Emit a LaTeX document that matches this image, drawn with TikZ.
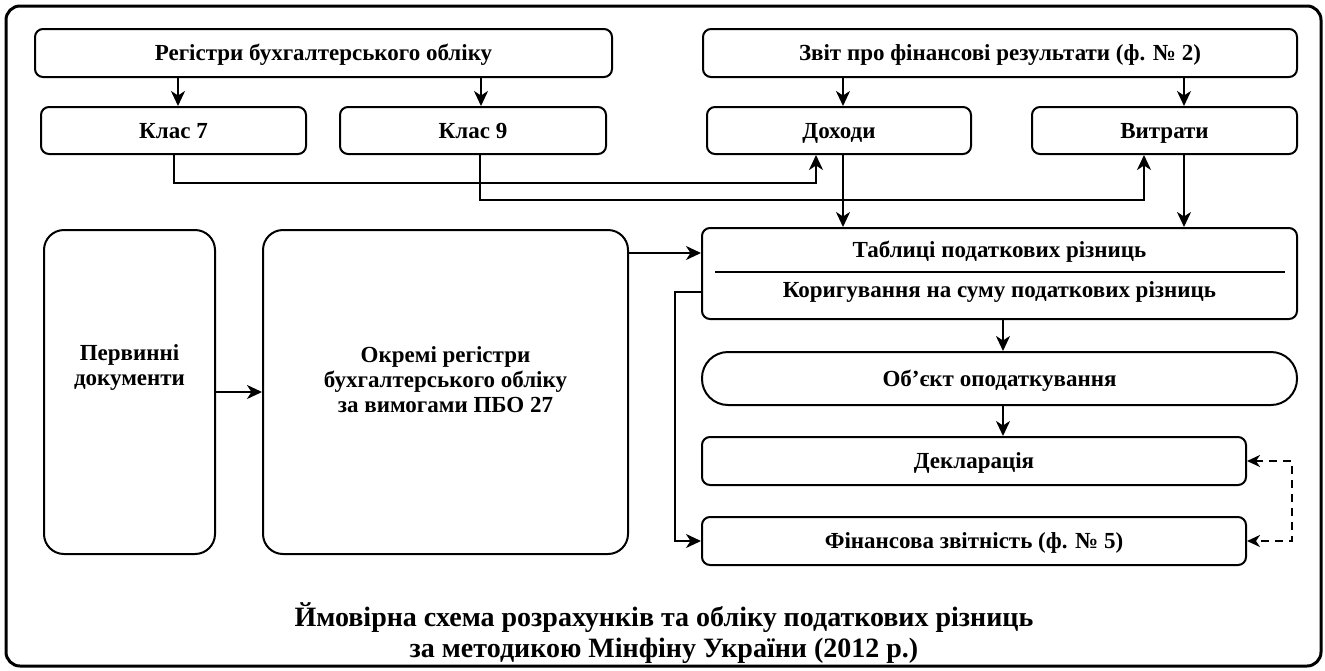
\documentclass[tikz,border=0pt]{standalone}
\usepackage{fontspec}
\setmainfont{Liberation Serif}
\usetikzlibrary{arrows.meta,calc}
\newcommand\bxfont{\fontsize{23}{25}\selectfont\bfseries}
\newcommand\ttlfont{\fontsize{28}{30.5}\selectfont\bfseries}
\begin{document}
\begin{tikzpicture}[x=1pt,y=-1pt,
  box/.style={draw, line width=2pt, rounded corners=8pt, font=\bxfont, align=center, inner sep=0pt, text height=20pt, text depth=5pt},
  tallbox/.style={draw, line width=2pt, rounded corners=20pt, inner sep=0pt},
  arr/.style={line width=2pt, -{Stealth[length=15pt,width=14pt,inset=4.5pt]}},
  darr/.style={line width=2pt, dash pattern=on 8pt off 6pt, {Stealth[length=13pt,width=12pt,inset=4pt]}-{Stealth[length=13pt,width=12pt,inset=4pt]}},
  lbl/.style={font=\bxfont, align=center, inner sep=0pt}]
\useasboundingbox (0,0) rectangle (1325,670);
\draw[line width=3pt, rounded corners=14pt] (6,6) rectangle (1321,666);

\node[box, minimum width=577pt, minimum height=48pt] (reg) at (323.5,53) {Регістри бухгалтерського обліку};
\node[box, minimum width=594pt, minimum height=48pt] (zvit) at (1000,53) {Звіт про фінансові результати (ф. № 2)};
\node[box, minimum width=265pt, minimum height=47pt] (k7) at (173.5,130.5) {Клас 7};
\node[box, minimum width=266pt, minimum height=47pt] (k9) at (473,130.5) {Клас 9};
\node[box, minimum width=264pt, minimum height=47pt] (doh) at (839,130.5) {Доходи};
\node[box, minimum width=265pt, minimum height=47pt] (vyt) at (1164.5,130.5) {Витрати};
\node[box, minimum width=595pt, minimum height=91pt,
  label={[lbl, yshift=21.5pt]center:Таблиці податкових різниць},
  label={[lbl, yshift=-18.5pt]center:Коригування на суму податкових різниць}] (tabl) at (999.5,273.5) {};
\node[box, rounded corners=26pt, minimum width=595pt, minimum height=53pt] (ob) at (999.5,378.5) {Об’єкт оподаткування};
\node[box, minimum width=544pt, minimum height=48pt] (dekl) at (974,461) {Декларація};
\node[box, minimum width=544pt, minimum height=48pt] (fin) at (974,541) {Фінансова звітність (ф. № 5)};
\node[tallbox, minimum width=171pt, minimum height=324pt,
  label={[lbl, yshift=25pt]center:Первинні\\документи}] (perv) at (129.5,392) {};
\node[tallbox, minimum width=365pt, minimum height=324pt,
  label={[lbl, yshift=12pt]center:Окремі регістри\\бухгалтерського обліку\\за вимогами ПБО 27}] (okr) at (445.5,392) {};
\node[font=\ttlfont, align=center, inner sep=0pt] (title) at (664,633) {Ймовірна схема розрахунків та обліку податкових різниць\\за методикою Мінфіну України (2012 р.)};

\draw[line width=1.5pt] ($(tabl.west)+(14,-1.5)$) -- ($(tabl.east)+(-13,-1.5)$);

\coordinate (a1) at ([xshift=4.5pt]k7.north);
\draw[arr] (a1 |- reg.south) -- (a1);
\coordinate (a2) at ([xshift=8pt]k9.north);
\draw[arr] (a2 |- reg.south) -- (a2);
\coordinate (a3) at ([xshift=4pt]doh.north);
\draw[arr] (a3 |- zvit.south) -- (a3);
\coordinate (a4) at ([xshift=19.5pt]vyt.north);
\draw[arr] (a4 |- zvit.south) -- (a4);

\coordinate (b1) at ([xshift=-23pt]doh.south);
\draw[arr] (k7.south) -- ++(0,28) -| (b1);
\coordinate (b2) at ([xshift=7pt]k9.south);
\coordinate (b3) at ([xshift=-20.5pt]vyt.south);
\draw[arr] (b2) -- ++(0,45) -| (b3);

\draw[arr] (a3 |- doh.south) -- (a3 |- tabl.north);
\draw[arr] (a4 |- vyt.south) -- (a4 |- tabl.north);

\coordinate (c1) at ([yshift=20.5pt]tabl.west);
\draw[arr] (c1 -| okr.east) -- (c1);
\draw[arr] (perv.east) -- (okr.west);

\coordinate (d1) at ([xshift=3.5pt]tabl.south);
\draw[arr] (d1) -- (d1 |- ob.north);
\draw[arr] (d1 |- ob.south) -- (d1 |- dekl.north);

\coordinate (e1) at ([yshift=-18.5pt]tabl.west);
\draw[arr] (e1) -- ++(-26,0) |- (fin.west);

\coordinate (f1) at ([xshift=45pt]dekl.east);
\draw[darr] (dekl.east) -- (f1) |- (fin.east);
\end{tikzpicture}
\end{document}
